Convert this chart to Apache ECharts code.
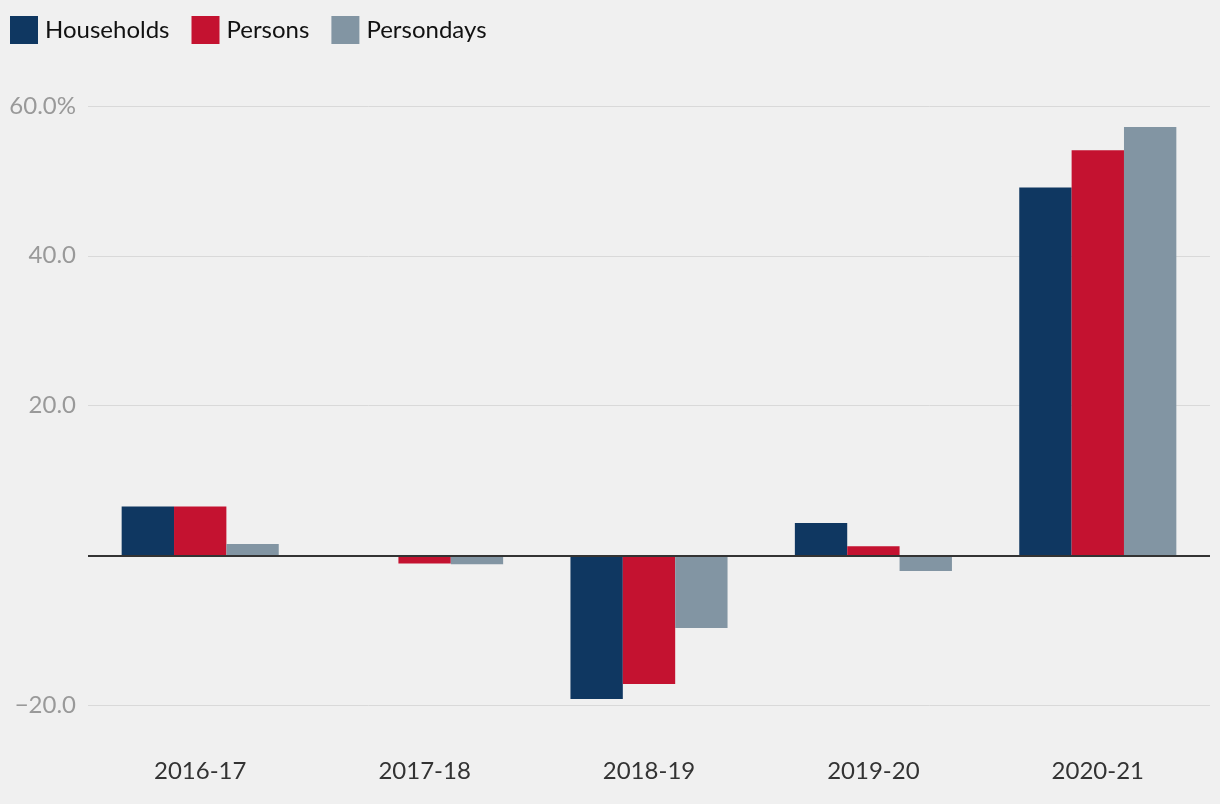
<!DOCTYPE html>
<html>
<head>
<meta charset="utf-8">
<script src="https://cdn.jsdelivr.net/npm/echarts@6/dist/echarts.min.js"></script>
<style>
html,body{margin:0;padding:0;background:#f0f0f0;}
#chart{width:1220px;height:804px;}
</style>
</head>
<body>
<div id="chart"></div>
<script>
const categories = ['2016-17', '2017-18', '2018-19', '2019-20', '2020-21'];
const households = [6.5, 0, -19.2, 4.3, 49.1];
const persons = [6.5, -1.1, -17.2, 1.2, 54.1];
const persondays = [1.5, -1.2, -9.7, -2.1, 57.2];
const seriesNames = ['Households', 'Persons', 'Persondays'];
const colors = ['#0f3761', '#c41230', '#8295a3'];

const FONT = 'Lato, "Noto Sans", sans-serif';
const chart = echarts.init(document.getElementById('chart'));
const dataSets = [households, persons, persondays];
chart.setOption({
  backgroundColor: '#f0f0f0',
  animation: false,
  textStyle: { fontFamily: FONT },
  legend: {
    left: 10, top: 16, padding: 0,
    itemWidth: 28, itemHeight: 28, itemGap: 22,
    icon: 'rect',
    textStyle: { fontSize: 24, color: '#111', fontFamily: FONT, padding: [0, 0, 0, 2] },
    data: seriesNames
  },
  grid: { left: 88, right: 10, top: 106, bottom: 99, containLabel: false },
  xAxis: {
    type: 'category',
    data: categories,
    position: 'bottom',
    axisLine: { show: false, onZero: false },
    axisTick: { show: false },
    axisLabel: { fontSize: 24, color: '#333', margin: 54, fontFamily: FONT }
  },
  yAxis: {
    type: 'value',
    min: -20, max: 60, interval: 20,
    axisLine: { show: false },
    axisTick: { show: false },
    axisLabel: {
      fontSize: 24, color: '#999', margin: 12, fontFamily: FONT,
      formatter: function (v) {
        if (v === 0) return '';
        if (v === 60) return '60.0%';
        return (v < 0 ? '\u2212' : '') + Math.abs(v).toFixed(1);
      }
    },
    splitLine: { lineStyle: { color: '#d9d9d9', width: 1 } }
  },
  series: seriesNames.map((n, i) => ({
    name: n,
    type: 'bar',
    data: dataSets[i],
    itemStyle: { color: colors[i] },
    barGap: '0%',
    barCategoryGap: '30%',
    markLine: i === 0 ? {
      silent: true, symbol: 'none', label: { show: false },
      lineStyle: { color: '#333', width: 2, type: 'solid' },
      data: [{ yAxis: 0 }]
    } : undefined
  }))
});
</script>
</body>
</html>
